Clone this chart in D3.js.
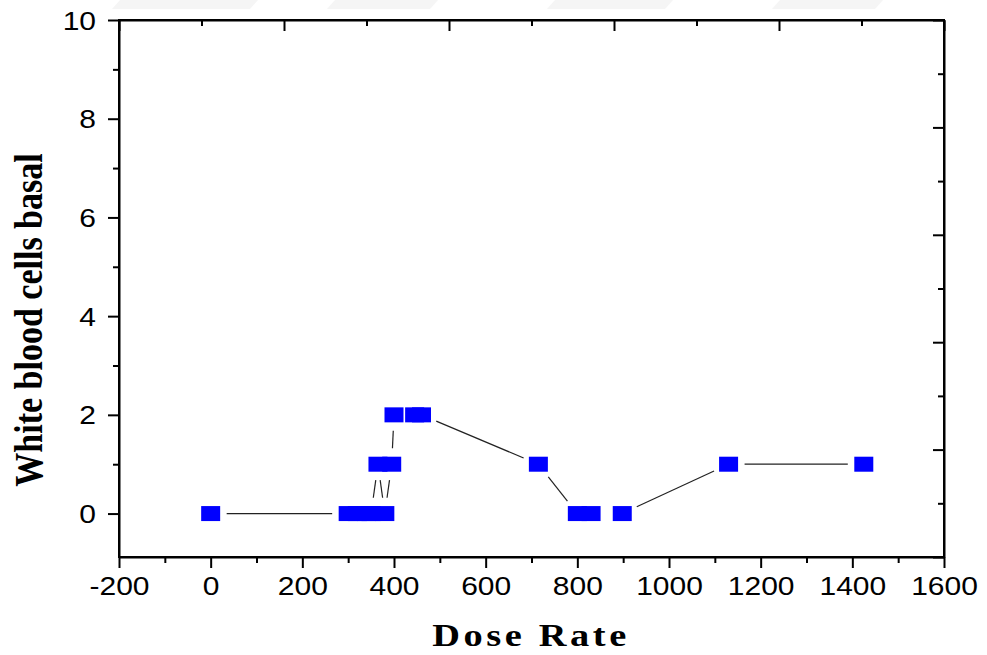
<!DOCTYPE html>
<html>
<head>
<meta charset="utf-8">
<script src="https://cdn.jsdelivr.net/npm/d3@7"></script>
<style>
  body { margin: 0; background: #fff; }
  svg { display: block; }
  .tick line { stroke: #000; stroke-width: 2; }
  .domain { stroke: #000; stroke-width: 2; }
</style>
</head>
<body>
<svg id="chart" width="987" height="655"></svg>
<script>
// dose rate (x) and white blood cells basal (y)
var dose = [0, 300, 320, 340, 350, 365, 380, 395, 400, 445, 460, 715, 800, 830, 898, 1130, 1425];
var wbc  = [0, 0, 0, 0, 0, 1, 0, 1, 2, 2, 2, 1, 0, 0, 0, 1, 1];

var xTicks = [-200, 0, 200, 400, 600, 800, 1000, 1200, 1400, 1600];
var yTicks = [0, 2, 4, 6, 8, 10];

var svg = d3.select('#chart');
var pLeft = 119, pRight = 944, pTop = 20, pBottom = 557;
var sx = 1.2; // the picture is stretched sideways

// faint watermark strip at the top
var marks = [[120, 250], [335, 430], [555, 665], [780, 875]];
svg.selectAll('.wm').data(marks).enter().append('path')
  .attr('class', 'wm')
  .attr('d', function (d) { return 'M' + d[0] + ',0L' + (d[1] + 8) + ',0L' + d[1] + ',9L' + (d[0] - 8) + ',9Z'; })
  .attr('fill', '#f5f5f5');

var x = d3.scaleLinear().domain([-200, 1600]).range([pLeft, pRight]);
var y = d3.scaleLinear().domain([-0.88, 10]).range([pBottom, pTop]);
// top and right axes carry their own 0..10 scale, no labels
var xTop = d3.scaleLinear().domain([0, 10]).range([pLeft, pRight]);
var yRight = d3.scaleLinear().domain([0, 10]).range([pBottom, pTop]);

function steps(lo, hi, step) {
  var out = [];
  for (var v = lo; v <= hi; v += step) out.push(v);
  return out;
}
function noDomain(g) { g.select('.domain').remove(); }

// minor ticks first
svg.append('g').attr('transform', 'translate(0,' + pBottom + ')')
  .call(d3.axisBottom(x).tickValues(steps(-100, 1500, 200)).tickSize(6).tickFormat(''))
  .call(noDomain);
svg.append('g').attr('transform', 'translate(' + pLeft + ',0)')
  .call(d3.axisLeft(y).tickValues(steps(1, 9, 2)).tickSize(6).tickFormat(''))
  .call(noDomain);
svg.append('g').attr('transform', 'translate(0,' + pTop + ')')
  .call(d3.axisBottom(xTop).tickValues(steps(1, 9, 2)).tickSize(6).tickFormat(''))
  .call(noDomain);
svg.append('g').attr('transform', 'translate(' + pRight + ',0)')
  .call(d3.axisLeft(yRight).tickValues(steps(1, 9, 2)).tickSize(6).tickFormat(''))
  .call(noDomain);

// major ticks + labels
var gx = svg.append('g').attr('transform', 'translate(0,' + pBottom + ')')
  .call(d3.axisBottom(x).tickValues(xTicks).tickSize(11).tickSizeOuter(0).tickFormat(function (d) { return String(d); }));
gx.selectAll('text')
  .attr('y', 0).attr('dy', 0)
  .attr('transform', 'translate(0,38) scale(' + sx + ',1)')
  .attr('fill', '#000')
  .style('font-family', '"Liberation Sans", Arial, sans-serif')
  .style('font-size', '25px');

var gy = svg.append('g').attr('transform', 'translate(' + pLeft + ',0)')
  .call(d3.axisLeft(y).tickValues(yTicks).tickSize(11).tickSizeOuter(0).tickFormat(function (d) { return String(d); }));
gy.selectAll('text')
  .attr('x', 0).attr('dy', 0)
  .attr('transform', 'translate(-23,9) scale(' + sx + ',1)')
  .attr('fill', '#000')
  .style('font-family', '"Liberation Sans", Arial, sans-serif')
  .style('font-size', '25px');

svg.append('g').attr('transform', 'translate(0,' + pTop + ')')
  .call(d3.axisBottom(xTop).tickValues(steps(0, 10, 2)).tickSize(11).tickSizeOuter(0).tickFormat(''));
svg.append('g').attr('transform', 'translate(' + pRight + ',0)')
  .call(d3.axisLeft(yRight).tickValues(steps(0, 10, 2)).tickSize(11).tickSizeOuter(0).tickFormat(''));

// frame
svg.append('rect')
  .attr('x', pLeft).attr('y', pTop)
  .attr('width', pRight - pLeft).attr('height', pBottom - pTop)
  .attr('fill', 'none').attr('stroke', '#000').attr('stroke-width', 2);

// connecting line, broken around each symbol
var pts = dose.map(function (d, i) { return [x(d), y(wbc[i])]; });
var gap = 16;
var segs = [];
for (var i = 0; i < pts.length - 1; i++) {
  var a = pts[i], b = pts[i + 1];
  var dx = b[0] - a[0], dy = b[1] - a[1];
  var len = Math.sqrt(dx * dx + dy * dy);
  if (len <= 2 * gap) continue;
  var ux = dx / len, uy = dy / len;
  segs.push([a[0] + ux * gap, a[1] + uy * gap, b[0] - ux * gap, b[1] - uy * gap]);
}
svg.selectAll('.seg').data(segs).enter().append('line')
  .attr('class', 'seg')
  .attr('x1', function (d) { return d[0]; })
  .attr('y1', function (d) { return d[1]; })
  .attr('x2', function (d) { return d[2]; })
  .attr('y2', function (d) { return d[3]; })
  .attr('stroke', '#222').attr('stroke-width', 1.2);

// symbols
svg.selectAll('.pt').data(dose).enter().append('rect')
  .attr('class', 'pt')
  .attr('x', function (d) { return x(d) - 9.5; })
  .attr('y', function (d, i) { return y(wbc[i]) - 7.5; })
  .attr('width', 19).attr('height', 15)
  .attr('fill', '#0000ff');

// axis titles
svg.append('text')
  .attr('transform', 'translate(531,646) scale(' + sx + ',1)')
  .attr('text-anchor', 'middle')
  .style('font-family', '"Liberation Serif", "Times New Roman", serif')
  .style('font-weight', 'bold')
  .style('font-size', '32px')
  .style('letter-spacing', '3px')
  .text('Dose Rate');

svg.append('text')
  .attr('transform', 'translate(42,320) scale(' + sx + ',1) rotate(-90)')
  .attr('text-anchor', 'middle')
  .style('font-family', '"Liberation Serif", "Times New Roman", serif')
  .style('font-weight', 'bold')
  .style('font-size', '34px')
  .text('White blood cells basal');
</script>
</body>
</html>
